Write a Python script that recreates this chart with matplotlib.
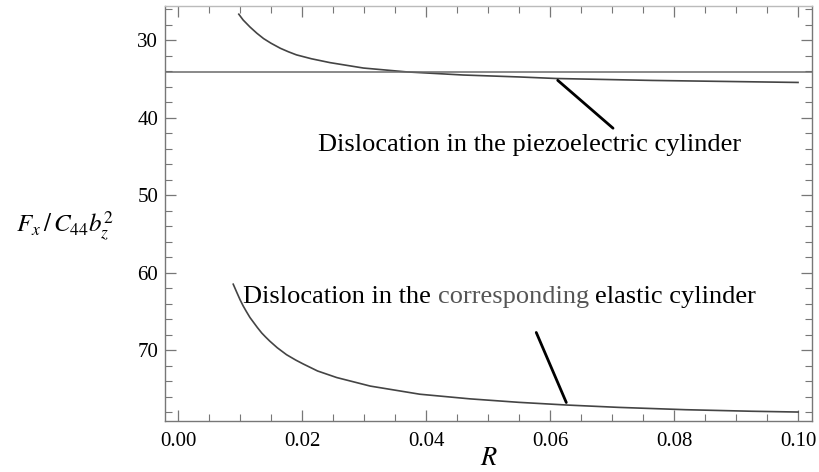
import matplotlib
matplotlib.use("Agg")
import matplotlib.pyplot as plt
from matplotlib.ticker import MultipleLocator, FormatStrFormatter
from matplotlib.transforms import offset_copy

plt.rcParams['font.family'] = ['Liberation Serif', 'DejaVu Serif']
plt.rcParams['mathtext.fontset'] = 'stix'

# force on the dislocation, piezoelectric cylinder
r_piezo = [0.0098, 0.0105, 0.0116, 0.0127, 0.0138, 0.015, 0.0165, 0.0178,
           0.0191, 0.0215, 0.0245, 0.0299, 0.0369, 0.046, 0.055, 0.061,
           0.0765, 0.1]
f_piezo = [26.65, 27.4, 28.3, 29.1, 29.8, 30.4, 31.05, 31.5,
           31.9, 32.4, 32.9, 33.6, 34.1, 34.5, 34.75, 34.95,
           35.2, 35.46]

# corresponding elastic cylinder
r_elastic = [0.0089, 0.0095, 0.0100, 0.0105, 0.011, 0.0116, 0.0122, 0.0128,
             0.0135, 0.0141, 0.0148, 0.016, 0.0175, 0.019, 0.0202, 0.0225,
             0.0256, 0.031, 0.039, 0.0471, 0.055, 0.0628, 0.0711, 0.0819,
             0.0926, 0.1]
f_elastic = [61.5, 62.6, 63.5, 64.3, 65.0, 65.8, 66.45, 67.1,
             67.8, 68.3, 68.85, 69.7, 70.6, 71.3, 71.8, 72.7,
             73.55, 74.65, 75.7, 76.3, 76.75, 77.1, 77.4, 77.7,
             77.9, 78.0]

f_flat = 34.1

fig = plt.figure(figsize=(8.19, 4.72), dpi=100)
ax = fig.add_axes([0.2015, 0.108, 0.79, 0.879])

ax.plot(r_piezo, f_piezo, color='#444444', lw=1.2)
ax.plot(r_elastic, f_elastic, color='#444444', lw=1.2)
ax.axhline(f_flat, color='#6a6a6a', lw=1.1)

ax.set_xlim(-0.0021, 0.10226)
ax.set_ylim(79.16, 25.61)

ax.xaxis.set_major_locator(MultipleLocator(0.02))
ax.xaxis.set_minor_locator(MultipleLocator(0.005))
ax.xaxis.set_major_formatter(FormatStrFormatter('%.2f'))
ax.yaxis.set_major_locator(MultipleLocator(10))
ax.yaxis.set_minor_locator(MultipleLocator(2))

ax.tick_params(which='both', direction='in', top=True, right=True,
               color='#777777', labelsize=15)
ax.tick_params(which='major', length=8, width=0.9)
ax.tick_params(which='minor', length=5, width=0.8)
ax.tick_params(axis='x', pad=8)
ax.tick_params(axis='y', pad=5)
ax.tick_params(labeltop=False, labelright=False)
for s in ax.spines.values():
    s.set_color('#777777')
    s.set_linewidth(1.0)
ax.spines['top'].set_color('#bbbbbb')

ax.set_xlabel('$R$', fontsize=19, labelpad=-2)
fig.text(65 / 819, 1 - 226 / 472, r'$F_x\,/\,C_{44}b_z^2$', fontsize=18,
         ha='center', va='center')

# pointers
ax.annotate('', xy=(0.0609, 34.95), xytext=(0.0705, 41.6),
            arrowprops=dict(arrowstyle='-', color='black', lw=2))
ax.annotate('', xy=(0.0628, 77.1), xytext=(0.0576, 67.4),
            arrowprops=dict(arrowstyle='-', color='black', lw=2))

ax.text(0.0226, 44.3, 'Dislocation in the piezoelectric cylinder',
        fontsize=19, va='baseline', ha='left')

# lower label with "corresponding" in grey
parts = ['Dislocation in the', 'corresponding', 'elastic cylinder']
full = ' '.join(parts)
renderer = fig.canvas.get_renderer()


def width_of(s):
    t = ax.text(0, 0, s, fontsize=19)
    w = t.get_window_extent(renderer).width
    t.remove()
    return w


w_full = width_of(full)
x0, y0 = 0.0105, 63.9
ax.text(x0, y0, parts[0], fontsize=19, va='baseline', ha='left')
dx1 = w_full - width_of(parts[1] + ' ' + parts[2])
dx2 = w_full - width_of(parts[2])
ax.text(x0, y0, parts[1], fontsize=19, va='baseline', ha='left', color='#555555',
        transform=offset_copy(ax.transData, fig=fig, x=dx1, y=0, units='dots'))
ax.text(x0, y0, parts[2], fontsize=19, va='baseline', ha='left',
        transform=offset_copy(ax.transData, fig=fig, x=dx2, y=0, units='dots'))

fig.savefig('out.png', dpi=100)
